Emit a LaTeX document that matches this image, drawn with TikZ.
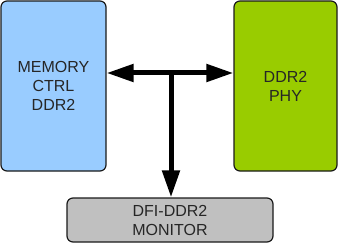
\documentclass[tikz,border=0pt]{standalone}
\usepackage{fontspec}
\setmainfont{Liberation Sans}
\usetikzlibrary{arrows.meta}
\definecolor{memblue}{HTML}{99CCFF}
\definecolor{phygreen}{HTML}{99CC00}
\definecolor{mongray}{HTML}{C0C0C0}
\definecolor{edge}{HTML}{1A1A1A}
\begin{document}
\begin{tikzpicture}[x=1pt,y=-1pt,
  block/.style={draw=edge,line width=1.2pt,rounded corners=6pt,align=center,
    font=\fontsize{16}{19}\selectfont,text=black!85,inner sep=0pt},
  bus/.style={line width=5pt,draw=black},
  tip/.style={-{Triangle[length=27pt,width=17pt]}},
  dtip/.style={{Triangle[length=27pt,width=17pt]}-{Triangle[length=27pt,width=17pt]}}]
\useasboundingbox (0,0) rectangle (339,243);
\node[block,fill=memblue,minimum width=105pt,minimum height=170pt] (mem) at (53.5,86) {MEMORY\\CTRL\\DDR2};
\node[block,fill=phygreen,minimum width=103pt,minimum height=170pt] (phy) at (285.5,86) {DDR2\\PHY};
\node[block,fill=mongray,minimum width=206pt,minimum height=44pt] (mon) at (170,220) {DFI-DDR2\\MONITOR};
\coordinate (j) at (171,73);
\draw[bus,dtip] (mem.east |- j) -- (phy.west |- j);
\draw[bus,tip] ([yshift=2.5pt]j) -- (mon.north -| j);
\end{tikzpicture}
\end{document}
